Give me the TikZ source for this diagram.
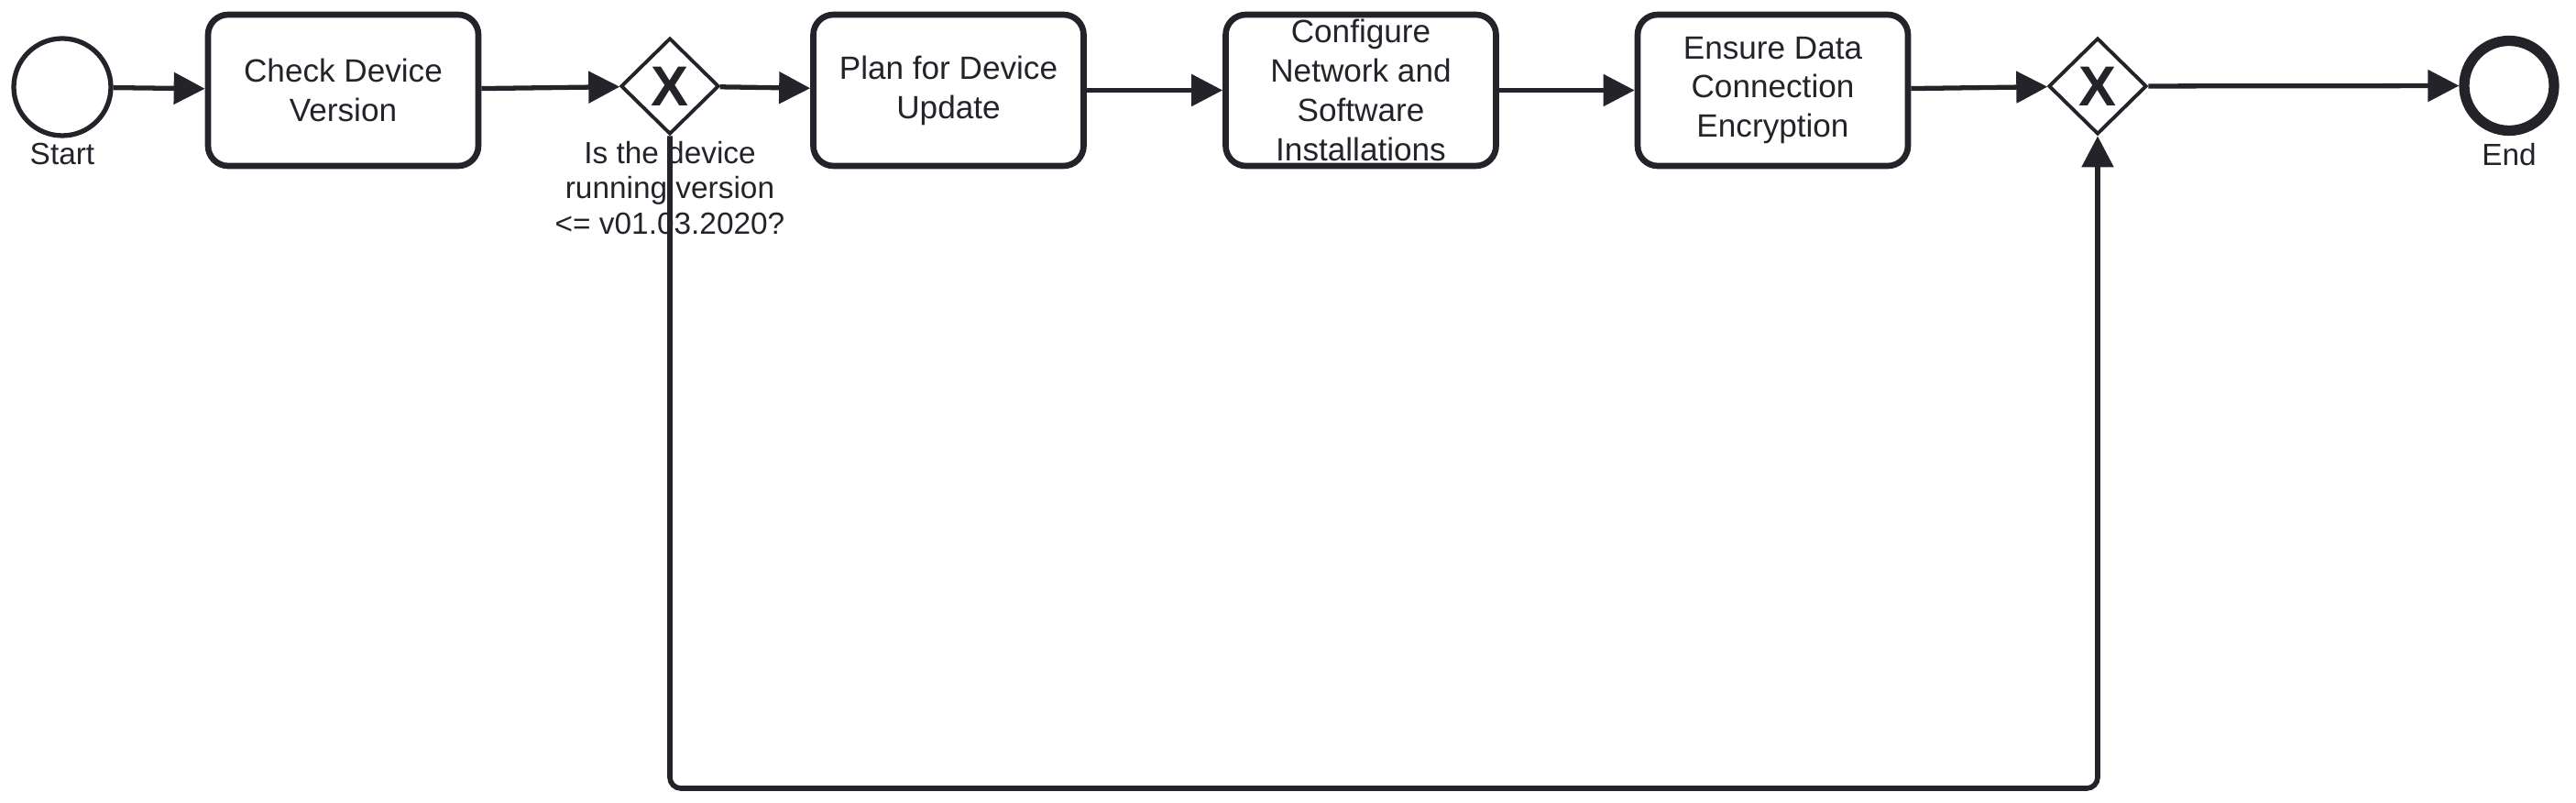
\documentclass[tikz,border=0pt]{standalone}
\usepackage{fontspec}
\setmainfont{Liberation Sans}
\usetikzlibrary{shapes.geometric,arrows.meta}
\definecolor{ink}{RGB}{34,36,42}

\begin{document}
\begin{tikzpicture}[>={Triangle[length=3.4mm,width=3.4mm]}, scale=1,
    task/.style={draw=ink, text=ink, line width=1.9pt, rounded corners=2.2mm,
        minimum width=2.95cm, minimum height=1.65cm, align=center,
        font=\fontsize{10}{12.2}\selectfont},
    gate/.style={draw=ink, text=ink, diamond, line width=1.1pt, inner sep=0pt,
        minimum width=1.07cm, minimum height=1.05cm,
        font=\bfseries\fontsize{17.5}{17.5}\selectfont},
    lbl/.style={text=ink, inner sep=0pt, anchor=north, align=center,
        font=\fontsize{9.5}{11}\selectfont},
    flow/.style={->, draw=ink, line width=1.5pt}]
    \useasboundingbox (0,0) rectangle (28.11,-8.76);

    % 1. Su kien bat dau / ket thuc
    \node[circle, draw=ink, line width=1.5pt, minimum size=1.06cm] (start) at (0.68,-0.95) {};
    \node[circle, draw=ink, line width=3.2pt, minimum size=0.98cm] (end) at (27.38,-0.935) {};
    \node[lbl] (startlbl) at ([yshift=-0.05cm]start.south) {Start};
    \node[lbl] (endlbl) at ([yshift=-0.07cm]end.south) {End};

    % 2. Cac buoc
    \node[task] (check) at (3.745,-0.985) {Check Device\\Version};
    \node[task] (plan) at (10.35,-0.985) {Plan for Device\\Update};
    \node[task] (config) at (14.85,-0.985)
        {\smash{\raisebox{-1.25mm}{\begin{tabular}{@{}c@{}}Configure\\Network and\\Software\\Installations\end{tabular}}}};
    \node[task] (ensure) at (19.345,-0.985) {Ensure Data\\Connection\\Encryption};

    % 3. Cong XOR
    \node[gate] (split) at (7.31,-0.94) {X};
    \node[gate] (merge) at (22.89,-0.94) {X};
    \node[lbl] (splitlbl) at ([yshift=-0.05cm]split.south) {Is the device\\running version\\<= v01.03.2020?};

    % 4. Luong
    \draw[flow] (start) -- (check);
    \draw[flow] (check) -- (split);
    \draw[flow] (split) -- (plan);
    \draw[flow] (plan) -- (config);
    \draw[flow] (config) -- (ensure);
    \draw[flow] (ensure) -- (merge);
    \draw[flow] (merge) -- (end);
    \coordinate (loop) at (15,-8.6);
    \draw[flow, line width=1.6pt, rounded corners=0.12cm] (split.south) |- (loop) -| (merge.south);
\end{tikzpicture}
\end{document}
